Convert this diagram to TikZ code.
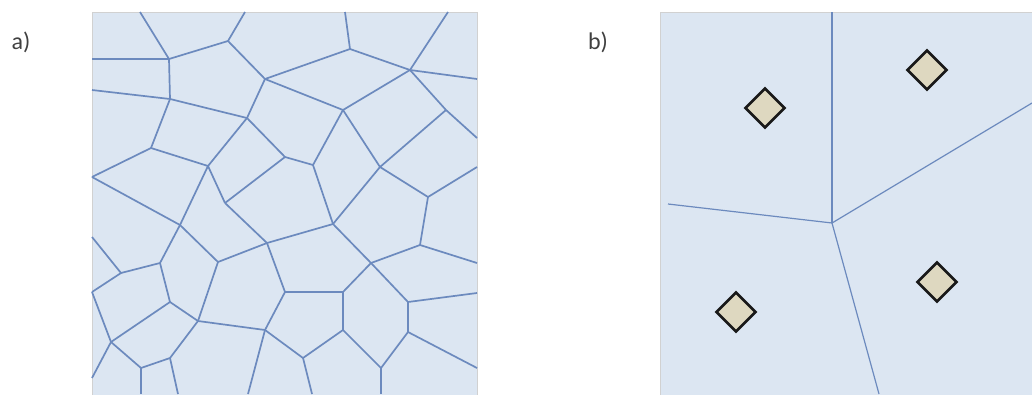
\documentclass[tikz,border=0pt]{standalone}
\usepackage{fontspec}
\setmainfont{Carlito}
\usepackage{tikz}
\usetikzlibrary{shapes.geometric}

\definecolor{cellfill}{RGB}{220,230,242}
\definecolor{cellline}{RGB}{108,138,190}
\definecolor{sitefill}{RGB}{222,216,192}
\definecolor{labelgray}{RGB}{64,64,64}

\begin{document}
\begin{tikzpicture}
 [x=1pt,y=-1pt,
  panel/.style={fill=cellfill,draw=black!18,line width=0.8pt},
  cell edge/.style={draw=cellline,line width=1.7pt,line join=round},
  thin edge/.style={draw=cellline,line width=1.2pt},
  site/.style={diamond,aspect=1,inner sep=0pt,minimum size=40pt,fill=sitefill,draw=black!90,line width=2.6pt},
  tag/.style={font=\fontsize{24}{28}\selectfont,text=labelgray}]

\useasboundingbox (0,0) rectangle (1032,394);

% panel a: many cells
\path[panel] (92,12) rectangle (477,400);

\node[tag] (taga) at (21,42) {a)};

% border points
\coordinate (t1) at (140,12); \coordinate (t2) at (245,12);
\coordinate (t3) at (345,12); \coordinate (t4) at (448,12);
\coordinate (l1) at (92,59);  \coordinate (l2) at (92,90);
\coordinate (l3) at (92,177); \coordinate (l4) at (92,237);
\coordinate (l5) at (92,292); \coordinate (l6) at (92,378);
\coordinate (r1) at (477,79);  \coordinate (r2) at (477,138);
\coordinate (r3) at (477,167); \coordinate (r4) at (477,263);
\coordinate (r5) at (477,293); \coordinate (r6) at (477,368);
\coordinate (b1) at (141,394); \coordinate (b2) at (178,394);
\coordinate (b3) at (248,394); \coordinate (b4) at (312,394);
\coordinate (b5) at (381,394);

% inner vertices
\coordinate (A) at (169,59);  \coordinate (B) at (170,99);
\coordinate (C) at (151,148); \coordinate (D) at (208,166);
\coordinate (F) at (228,41);  \coordinate (G) at (265,79);
\coordinate (H) at (350,49);  \coordinate (I) at (247,118);
\coordinate (J) at (343,110); \coordinate (K) at (285,157);
\coordinate (L) at (313,165); \coordinate (M) at (410,70);
\coordinate (N) at (380,167); \coordinate (O) at (446,110);
\coordinate (P) at (428,197); \coordinate (Q) at (420,245);
\coordinate (R) at (371,263); \coordinate (S) at (408,302);
\coordinate (T) at (408,332); \coordinate (U) at (381,368);
\coordinate (V) at (225,203); \coordinate (W) at (267,243);
\coordinate (X) at (180,225); \coordinate (Y) at (160,263);
\coordinate (Z) at (218,262);
\coordinate (Y1) at (121,273); \coordinate (Y2) at (170,302);
\coordinate (Y3) at (198,321); \coordinate (Y4) at (111,342);
\coordinate (Y5) at (141,368); \coordinate (Y6) at (170,358);
\coordinate (W1) at (285,292); \coordinate (W2) at (265,330);
\coordinate (W3) at (303,358);
\coordinate (AA) at (333,224); \coordinate (BB) at (343,292);
\coordinate (CC) at (343,330);

\foreach \u/\v in {A/t1,A/l1,A/B,A/F,B/l2,B/C,B/I,C/l3,C/D,D/I,D/X,D/V,
  l3/X,F/t2,F/G,G/H,G/I,G/J,H/t3,H/M,I/K,J/L,J/M,J/N,K/L,K/V,L/AA,
  M/t4,M/r1,M/O,N/O,N/P,N/AA,O/r2,P/r3,P/Q,Q/r4,Q/R,R/AA,R/S,R/BB,
  S/r5,S/T,T/r6,T/U,U/CC,U/b5,V/W,W/Z,W/AA,W/W1,X/Z,X/Y,Y/Y1,Y/Y2,
  Y1/l4,Y1/l5,Y2/Y3,Y2/Y4,Y3/Y6,Y3/Z,Y3/W2,Y4/l5,Y4/l6,Y4/Y5,Y5/Y6,
  Y5/b1,Y6/b2,W1/BB,W1/W2,W2/b3,W2/W3,W3/CC,W3/b4,BB/CC}
  \draw[cell edge] (\u) -- (\v);

% panel b: four sites
\path[panel] (660,12) rectangle (1040,400);

\node[tag] (tagb) at (598,42) {b)};

\coordinate (hub) at (832,223);
\coordinate (top) at (832,12);
\coordinate (west) at (668,204);
\coordinate (east) at (1032,103);
\coordinate (south) at (879,394);

\draw[thin edge] (top) -- (hub);
\draw[thin edge] (west) -- (hub);
\draw[thin edge] (hub) -- (east);
\draw[thin edge] (hub) -- (south);

\node[site] (s1) at (765,108) {};
\node[site] (s2) at (927,70) {};
\node[site] (s3) at (736,312) {};
\node[site] (s4) at (937,282) {};

\end{tikzpicture}
\end{document}
